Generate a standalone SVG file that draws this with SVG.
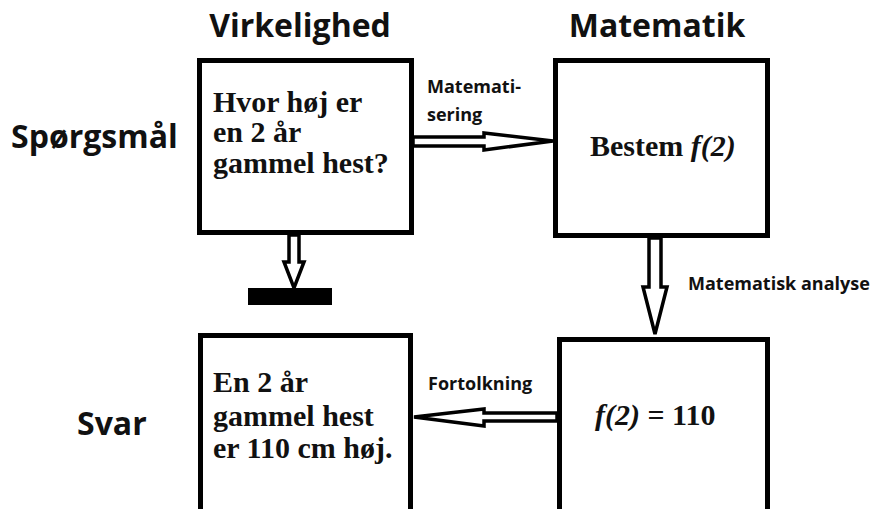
<svg xmlns="http://www.w3.org/2000/svg" width="878" height="509" viewBox="0 0 878 509">
<style>
.box{fill:#fff;stroke:#000;stroke-width:5}
.arr{fill:#fff;stroke:#000;stroke-width:3.5;stroke-linejoin:miter}
.hdr{font-family:"Open Sans","DejaVu Sans",sans-serif;font-weight:bold;font-size:32px;fill:#111}
.lbl{font-family:"Open Sans","DejaVu Sans",sans-serif;font-weight:bold;font-size:18px;fill:#111}
.tx{font-family:"Liberation Serif","Times New Roman",serif;font-weight:bold;font-size:30px;fill:#111}
</style>
<rect width="878" height="509" fill="#fff"/>
<g id="headers">
<text class="hdr" x="300" y="37" text-anchor="middle">Virkelighed</text>
<text class="hdr" x="657" y="37" text-anchor="middle">Matematik</text>
<text class="hdr" x="11" y="148" font-size="31.5">Spørgsmål</text>
<text class="hdr" x="77" y="435" font-size="31">Svar</text>
</g>
<g id="connectors">
<polygon class="arr" points="413,137 484,137 484,133 553,141 484,150 484,146 413,146"/>
<polygon class="arr" points="557,413 484,413 484,409 414,417 484,426 484,421 557,421"/>
<polygon class="arr" points="289,235 299,235 299,262 304,262 294,288 284,262 289,262"/>
<rect x="248" y="288" width="84" height="17" fill="#000"/>
<polygon class="arr" points="649,238 661,238 661,287 667,287 655,334 643,287 649,287"/>
<text class="lbl" x="427" y="93">Matemati-</text>
<text class="lbl" x="427" y="121">sering</text>
<text class="lbl" x="688" y="290">Matematisk analyse</text>
<text class="lbl" x="428" y="390">Fortolkning</text>
</g>
<g id="q-reality">
<rect class="box" x="199.5" y="60.5" width="212" height="172"/>
<text class="tx" x="213" y="112">Hvor høj er</text>
<text class="tx" x="213" y="142">en 2 år</text>
<text class="tx" x="213" y="173">gammel hest?</text>
</g>
<g id="q-math">
<rect class="box" x="555.5" y="60.5" width="212" height="175"/>
<text class="tx" x="590" y="156">Bestem <tspan font-style="italic">f(2)</tspan></text>
</g>
<g id="a-reality">
<rect class="box" x="200.5" y="335.5" width="210" height="200"/>
<text class="tx" x="213" y="392">En 2 år</text>
<text class="tx" x="213" y="426">gammel hest</text>
<text class="tx" x="213" y="458">er 110 cm høj.</text>
</g>
<g id="a-math">
<rect class="box" x="559.5" y="339.5" width="208" height="200"/>
<text class="tx" x="595" y="425"><tspan font-style="italic">f(2)</tspan> = 110</text>
</g>
</svg>
